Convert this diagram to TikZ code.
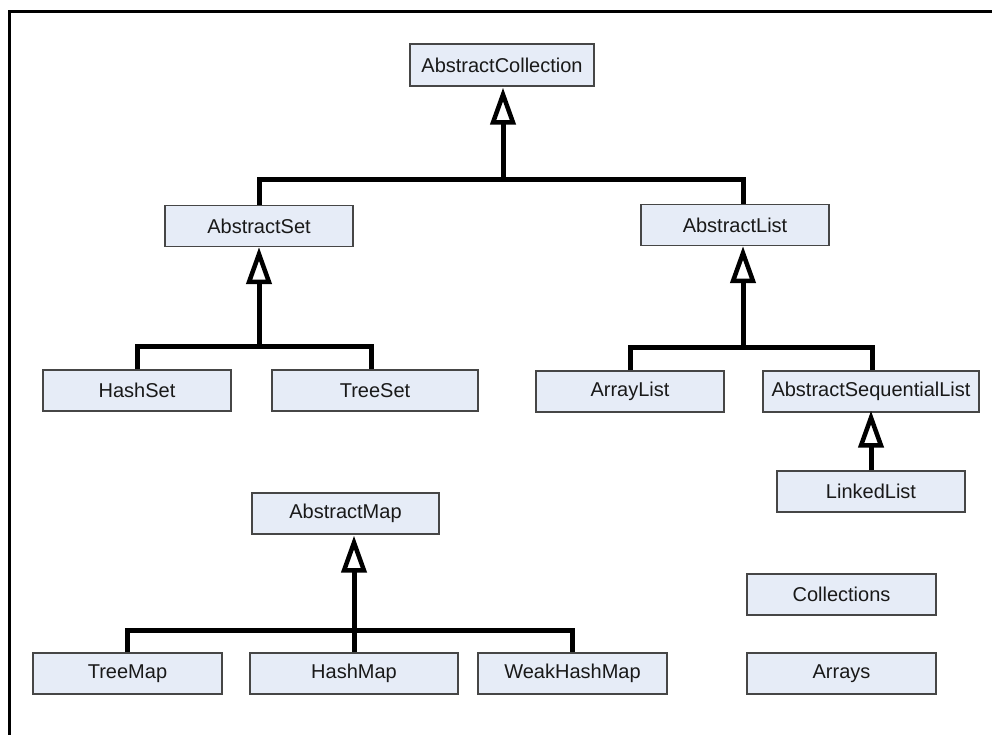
\documentclass[tikz,border=0pt]{standalone}
\usepackage{fontspec}
\setmainfont{Liberation Sans}
\usetikzlibrary{arrows.meta,calc}
\definecolor{boxfill}{RGB}{230,236,247}
\definecolor{boxline}{RGB}{70,70,70}
\begin{document}
\begin{tikzpicture}[x=1pt,y=-1pt,
 cls/.style={draw=boxline,line width=1.3pt,fill=boxfill,minimum height=41pt,inner sep=0pt,font=\fontsize{20}{23}\selectfont,text=black!90},
 conn/.style={line width=5pt,line join=miter},
 inh/.style={line width=5pt,-{Triangle[open,fill=white,length=37pt,width=25pt,line width=4.5pt]}}]
\useasboundingbox (0,0) rectangle (992,734);
\fill[white] (0,0) rectangle (992,734);
\draw[line width=3pt] (9,745) -- (9,11) -- (1000,11);

\node[cls,minimum width=184pt,minimum height=42pt] (acoll) at (502,65) {AbstractCollection};
\node[cls,minimum width=188pt] (aset) at (259,226) {AbstractSet};
\node[cls,minimum width=188pt] (alist) at (735,225) {AbstractList};
\node[cls,minimum width=188pt] (hashset) at (137,390.5) {HashSet};
\node[cls,minimum width=206pt] (treeset) at (375,390.5) {TreeSet};
\node[cls,minimum width=188pt] (arraylist) at (630,391.5) {ArrayList};
\node[cls,minimum width=216pt] (aseq) at (871,391.5) {AbstractSequentialList};
\node[cls,minimum width=188pt] (linked) at (871,491.5) {LinkedList};
\node[cls,minimum width=187pt] (amap) at (345.5,513.5) {AbstractMap};
\node[cls,minimum width=189pt] (treemap) at (127.5,673.5) {TreeMap};
\node[cls,minimum width=208pt] (hashmap) at (354,673.5) {HashMap};
\node[cls,minimum width=189pt] (weak) at (572.5,673.5) {WeakHashMap};
\node[cls,minimum width=189pt] (colls) at (841.5,594.5) {Collections};
\node[cls,minimum width=189pt] (arrays) at (841.5,673.5) {Arrays};

\coordinate (j1) at (503,179);
\coordinate (j2) at (259,346);
\coordinate (j3) at (743,347);
\coordinate (j4) at (354,630);

\draw[conn] (aset.north) |- (j1) -| ([xshift=8pt]alist.north);
\draw[inh] (j1) -- ($(j1 |- acoll.south)+(0,1)$);

\draw[conn] (hashset.north) |- (j2) -| ([xshift=-4pt]treeset.north);
\draw[inh] (j2) -- ($(j2 |- aset.south)+(0,0)$);

\draw[conn] (arraylist.north) |- (j3) -| ([xshift=1pt]aseq.north);
\draw[inh] (j3) -- ($(j3 |- alist.south)+(0,0)$);

\draw[inh] (linked.north) -- ($(aseq.south)+(0,-2)$);

\draw[conn] (treemap.north) |- (j4) -| (weak.north);
\draw[inh] (hashmap.north) -- ($(hashmap.north |- amap.south)+(0,1)$);
\end{tikzpicture}
\end{document}
